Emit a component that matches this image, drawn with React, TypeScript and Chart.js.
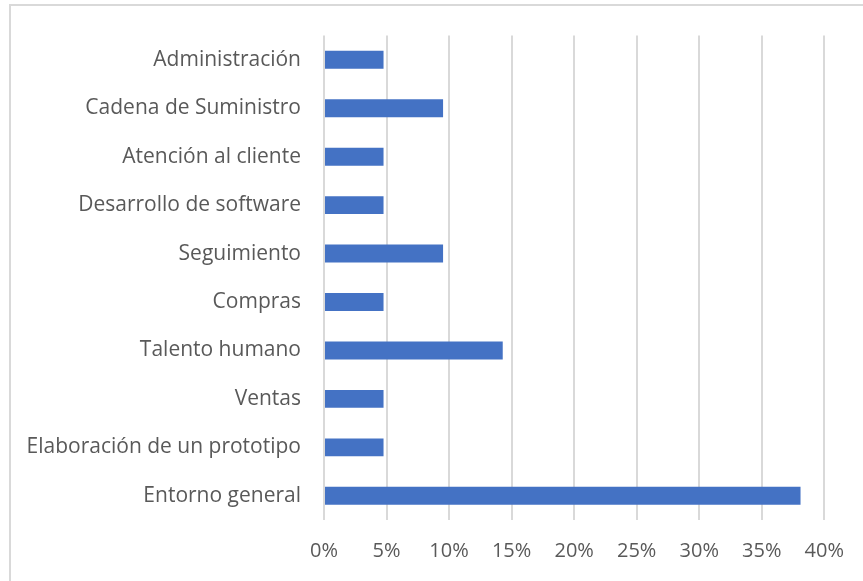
import React, { useEffect, useRef } from "react";
import { Chart, registerables } from "chart.js";

Chart.register(...registerables);

const categories = [
  "Administración",
  "Cadena de Suministro",
  "Atención al cliente",
  "Desarrollo de software",
  "Seguimiento",
  "Compras",
  "Talento humano",
  "Ventas",
  "Elaboración de un prototipo",
  "Entorno general",
];
const values = [4.76, 9.52, 4.76, 4.76, 9.52, 4.76, 14.29, 4.76, 4.76, 38.1];
const xMax = 40;
const xStep = 5;

const FONT = "'Open Sans', sans-serif";

const borderPlugin = {
  id: "outerBorder",
  beforeDraw(chart: any) {
    const ctx = chart.ctx;
    ctx.save();
    ctx.fillStyle = "#ffffff";
    ctx.fillRect(0, 0, chart.width, chart.height);
    ctx.strokeStyle = "#d9d9d9";
    ctx.lineWidth = 2;
    ctx.strokeRect(10, 5, chart.width + 20, chart.height + 20);
    ctx.restore();
  },
};

export default function App() {
  const ref = useRef<HTMLCanvasElement | null>(null);
  useEffect(() => {
    if (!ref.current) return;
    const chart = new Chart(ref.current, {
      type: "bar",
      data: {
        labels: categories,
        datasets: [
          {
            data: values,
            backgroundColor: "#4472C4",
            categoryPercentage: 1,
            barPercentage: 0.37,
          },
        ],
      },
      plugins: [borderPlugin],
      options: {
        indexAxis: "y",
        animation: false,
        responsive: false,
        maintainAspectRatio: false,
        layout: { padding: { top: 34, right: 37, left: 0, bottom: 0 } },
        plugins: { legend: { display: false }, tooltip: { enabled: false } },
        scales: {
          x: {
            min: 0,
            max: xMax,
            ticks: {
              stepSize: xStep,
              callback: (v: any) => v + "%",
              color: "#595959",
              font: { family: FONT, size: 20 },
              padding: 19,
            },
            grid: { color: "#d9d9d9", lineWidth: 2, drawTicks: false },
            border: { display: false },
            afterFit: (s: any) => {
              s.height = 61;
            },
          },
          y: {
            ticks: {
              color: "#595959",
              font: { family: FONT, size: 21 },
              padding: 23,
              autoSkip: false,
            },
            grid: { display: false, drawTicks: false },
            border: { display: false },
            afterFit: (s: any) => {
              s.width = 324;
            },
          },
        },
      },
    });
    return () => chart.destroy();
  }, []);
  return (
    <div style={{ position: "fixed", left: 0, top: 0, width: 863, height: 581 }}>
      <canvas ref={ref} width={863} height={581} />
    </div>
  );
}
